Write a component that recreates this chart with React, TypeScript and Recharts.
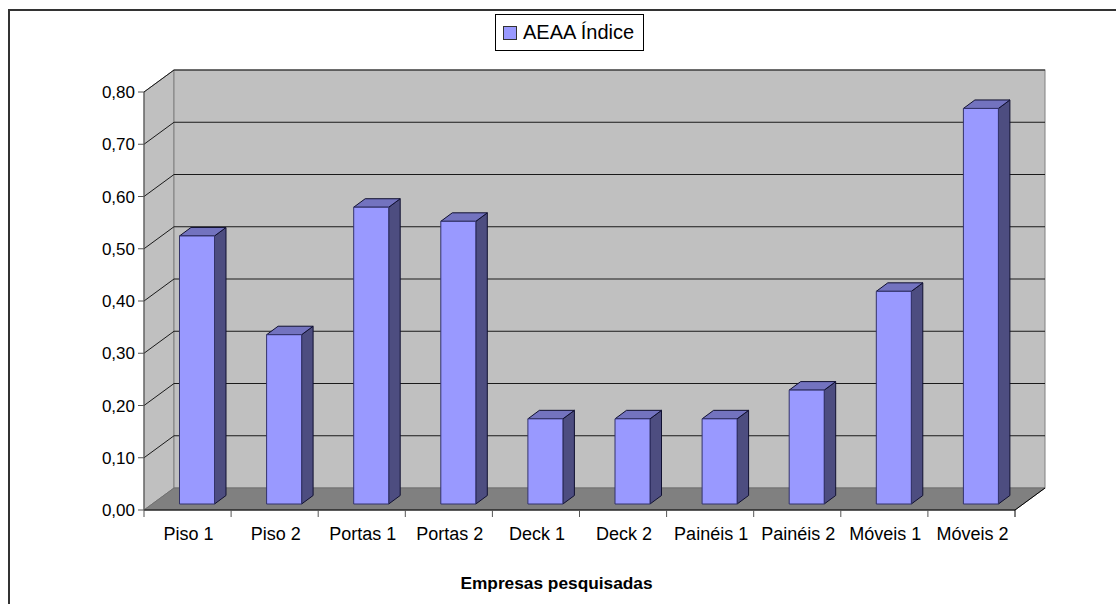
import React from "react";
import { BarChart, Bar, XAxis, YAxis, CartesianGrid, Legend, Label } from "recharts";

const categories = ["Piso 1", "Piso 2", "Portas 1", "Portas 2", "Deck 1", "Deck 2", "Painéis 1", "Painéis 2", "Móveis 1", "Móveis 2"];
const indexValues = [0.513, 0.324, 0.568, 0.541, 0.163, 0.163, 0.163, 0.218, 0.407, 0.757];
const yTicks = [0, 0.1, 0.2, 0.3, 0.4, 0.5, 0.6, 0.7, 0.8];

const rows = categories.map((name, i) => ({ name, value: indexValues[i] }));

const W = 1116;
const H = 604;
const PLOT = { left: 144, top: 92, right: 1015, bottom: 510 };
// Depth of the 3D box and of each column
const DX = 30;
const DY = 22;
const BAR_DX = 11.5;
const BAR_DY = 8.5;
const BAR_SHIFT_X = 9.5;
const BAR_SHIFT_Y = 6;
const FONT = "'Liberation Sans', Arial, sans-serif";
const BAND = (PLOT.right - PLOT.left) / categories.length;

const Column = (props: any) => {
  const { x, y, width, height } = props;
  const l = x + BAR_SHIFT_X;
  const r = l + width;
  const t = y - BAR_SHIFT_Y;
  const b = t + height;
  return (
    <g stroke="#101030" strokeWidth={1} strokeLinejoin="round">
      <polygon points={`${r},${t} ${r + BAR_DX},${t - BAR_DY} ${r + BAR_DX},${b - BAR_DY} ${r},${b}`} fill="#4D4D80" />
      <polygon points={`${l},${t} ${l + BAR_DX},${t - BAR_DY} ${r + BAR_DX},${t - BAR_DY} ${r},${t}`} fill="#7373BF" />
      <rect x={l} y={t} width={width} height={height} fill="#9999FF" stroke="#33336A" />
    </g>
  );
};

// One gridline wraps around the side wall and runs along the back wall
const WallLine = (props: any) => {
  const { x1, x2, y1 } = props;
  if (y1 >= PLOT.bottom - 1) return <g key={props.key} />;
  return (
    <polyline
      key={props.key}
      points={`${x1},${y1} ${x1 + DX},${y1 - DY} ${x2 + DX},${y1 - DY}`}
      fill="none"
      stroke="#1A1A1A"
      strokeWidth={1}
    />
  );
};

// Category label centred in its band, with tick marks on the band boundaries
const CategoryTick = ({ x, index, payload }: any) => {
  const left = x - BAND / 2;
  return (
    <g>
      <line x1={left} y1={PLOT.bottom} x2={left} y2={PLOT.bottom + 7} stroke="#555" />
      {index === categories.length - 1 && (
        <line x1={x + BAND / 2} y1={PLOT.bottom} x2={x + BAND / 2} y2={PLOT.bottom + 7} stroke="#000" />
      )}
      <text x={x + 1} y={PLOT.bottom + 30} textAnchor="middle" fill="#000" fontFamily={FONT} fontSize={18}>
        {payload.value}
      </text>
    </g>
  );
};

const LegendBox = ({ payload }: any) => (
  <div
    style={{
      position: "absolute",
      left: 495,
      top: 14,
      width: 147,
      height: 35,
      border: "1px solid #000",
      background: "#fff",
      display: "flex",
      alignItems: "center",
      fontFamily: FONT,
      fontSize: 20,
      color: "#000",
      boxSizing: "content-box",
      whiteSpace: "nowrap",
    }}
  >
    <span style={{ width: 12, height: 12, marginLeft: 7, marginRight: 6, background: "#9999FF", border: "1px solid #333" }} />
    <span>{payload?.[0]?.value}</span>
  </div>
);

const Walls = () => (
  <g>
    <polygon
      points={`${PLOT.left},${PLOT.top} ${PLOT.left + DX},${PLOT.top - DY} ${PLOT.left + DX},${PLOT.bottom - DY} ${PLOT.left},${PLOT.bottom}`}
      fill="#C0C0C0"
      stroke="#808080"
    />
    <rect
      x={PLOT.left + DX}
      y={PLOT.top - DY}
      width={PLOT.right - PLOT.left}
      height={PLOT.bottom - PLOT.top}
      fill="#C0C0C0"
      stroke="#808080"
    />
    <polygon
      points={`${PLOT.left},${PLOT.bottom} ${PLOT.left + DX},${PLOT.bottom - DY} ${PLOT.right + DX},${PLOT.bottom - DY} ${PLOT.right},${PLOT.bottom}`}
      fill="#808080"
      stroke="#707070"
    />
    <line x1={PLOT.right} y1={PLOT.bottom} x2={PLOT.right + DX} y2={PLOT.bottom - DY} stroke="#000" />
  </g>
);

export default function App() {
  return (
    <div style={{ position: "absolute", left: 0, top: 0, width: W, height: H, background: "#fff", overflow: "hidden" }}>
      <div style={{ position: "absolute", left: 8, top: 9, width: 1200, height: 700, borderLeft: "2px solid #333", borderTop: "2px solid #333", boxSizing: "border-box" }} />
      <BarChart
        width={W}
        height={H}
        data={rows}
        barSize={35}
        margin={{ left: 0, top: PLOT.top, right: W - PLOT.right, bottom: 0 }}
        style={{ position: "absolute", left: 0, top: 0 }}
      >
        <Walls />
        <CartesianGrid zIndex={1} vertical={false} horizontal={WallLine} stroke="#1A1A1A" />
        <XAxis
          dataKey="name"
          height={H - PLOT.bottom}
          tickLine={false}
          interval={0}
          stroke="#000"
          tick={CategoryTick}
        >
          <Label
            value="Empresas pesquisadas"
            position="insideBottom"
            offset={15}
            dx={-23}
            style={{ fontFamily: FONT, fontSize: 17.3, fontWeight: 700, fill: "#000" }}
          />
        </XAxis>
        <YAxis
          width={PLOT.left}
          domain={[0, 0.8]}
          ticks={yTicks}
          tickFormatter={(v: number) => v.toFixed(2).replace(".", ",")}
          tickSize={6}
          tickMargin={3}
          stroke="#555"
          tick={{ fill: "#000", fontFamily: FONT, fontSize: 17 }}
        />
        <Legend content={LegendBox} wrapperStyle={{ position: "absolute", left: 0, top: 0, width: 0, height: 0 }} />
        <Bar dataKey="value" name="AEAA Índice" fill="#9999FF" shape={Column} isAnimationActive={false} />
      </BarChart>
    </div>
  );
}
